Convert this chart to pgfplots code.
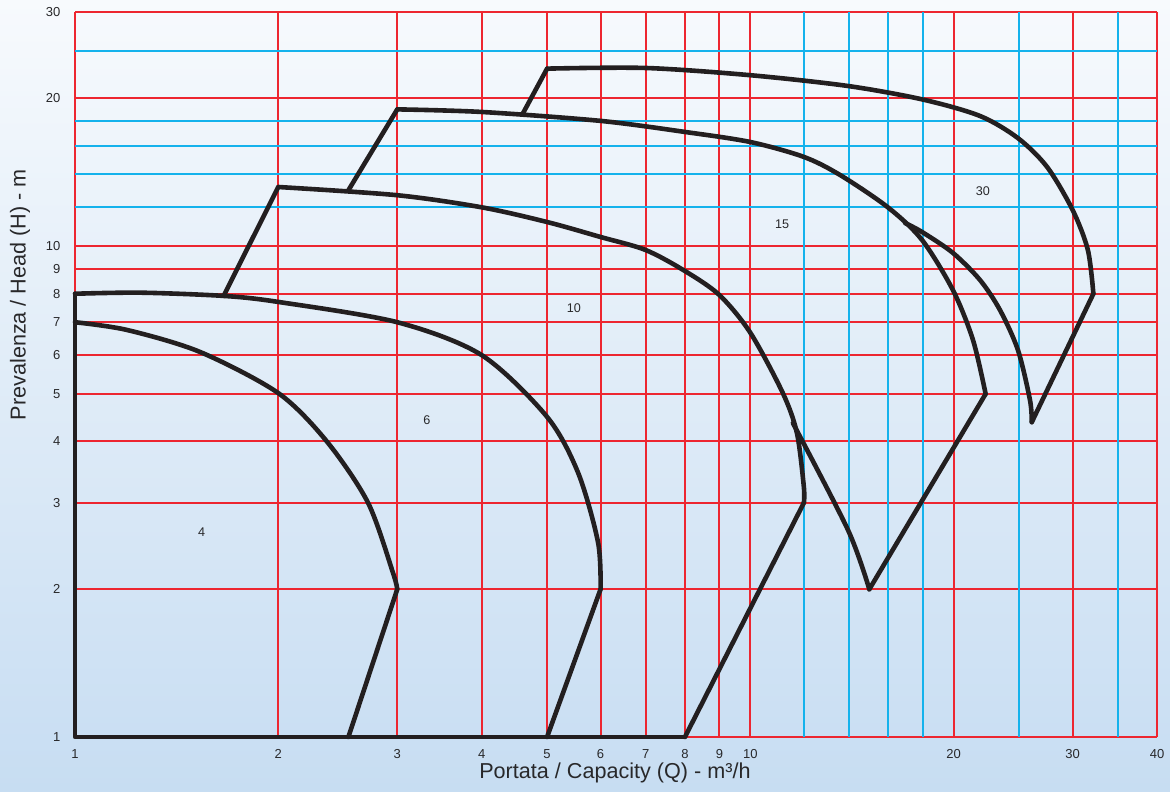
\documentclass[border=0pt]{standalone}
\usepackage{pgfplots}
\pgfplotsset{compat=1.18}
\usepackage{fontspec}
\setmainfont{Liberation Sans}
\definecolor{gridred}{RGB}{237,38,48}
\definecolor{gridblue}{RGB}{20,178,236}
\definecolor{curve}{RGB}{35,31,32}
\definecolor{bgtop}{RGB}{247,250,253}
\definecolor{bgbot}{RGB}{199,221,242}
\definecolor{txt}{RGB}{40,40,42}
\begin{document}
\begin{tikzpicture}
\shade[top color=bgtop, bottom color=bgbot] (-37.5pt,-27pt) rectangle (547.5pt,368.5pt);
\path[use as bounding box] (-37.5pt,-27pt) rectangle (547.5pt,368.5pt);
\begin{axis}[
  scale only axis, width=541pt, height=362.5pt,
  xmode=log, ymode=log,
  xmin=1, xmax=40, ymin=1, ymax=30,
  clip=false,
  axis line style={draw=none},
  major tick length=0pt,
  xtick={1,2,3,4,5,6,7,8,9,10,20,30,40},
  xticklabels={1,2,3,4,5,6,7,8,9,10,20,30,40},
  ytick={1,2,3,4,5,6,7,8,9,10,20,30},
  yticklabels={1,2,3,4,5,6,7,8,9,10,20,30},
  extra x ticks={12,14,16,18,25,35},
  extra x tick labels={},
  extra y ticks={12,14,16,18,25},
  extra y tick labels={},
  grid=major,
  major grid style={gridred, line width=1pt},
  extra x tick style={major grid style={gridblue, line width=1pt}},
  extra y tick style={major grid style={gridblue, line width=1pt}},
  ticklabel style={font=\fontsize{6.5}{7.5}\selectfont, text=txt},
  xticklabel style={yshift=-2.7pt},
  yticklabel style={xshift=-3.8pt},
  xlabel={Portata / Capacity (Q) - m³/h},
  ylabel={Prevalenza / Head (H) - m},
  label style={font=\fontsize{10.8}{12}\selectfont, text=txt},
  xlabel style={at={(axis description cs:0.499,-0.0497)}, anchor=center},
  ylabel style={at={(axis description cs:-0.0508,0.61)}, anchor=center, rotate=0},
  every axis plot/.append style={curve, line width=2.3pt, line cap=round, line join=round},
]
% frame
\addplot[sharp plot] coordinates {(8,1) (1,1) (1,8)};
% curve 4
\addplot[smooth] coordinates {(1,7) (1.194,6.75) (1.531,6.09) (2,5.02) (2.36,4.0) (2.716,3.0) (2.957,2.16) (3,2)};
\addplot[sharp plot] coordinates {(3,2) (2.54,1)};
% curve 6
\addplot[smooth] coordinates {(1,8) (1.25,8.04) (1.66,7.92) (2,7.7) (3,7.0) (4,6.0) (5,4.49) (5.56,3.45) (5.95,2.49) (6,2)};
\addplot[sharp plot] coordinates {(6,2) (5,1)};
% curve 10
\addplot[sharp plot] coordinates {(1.66,7.92) (2,13.2)};
\addplot[smooth] coordinates {(2,13.2) (3,12.7) (4,12.0) (5,11.2) (6,10.44) (7,9.82) (8,8.9) (9,7.95) (10,6.66) (11.17,5.02) (11.72,4.16) (12,3.23) (12,3.0)};
\addplot[sharp plot] coordinates {(12,3) (8,1)};
% curve 15
\addplot[sharp plot] coordinates {(2.54,13.0) (3,19.0)};
\addplot[smooth] coordinates {(3,19.0) (4,18.77) (6,18.0) (8,17.09) (10,16.3) (12,15.2) (13.57,13.97) (15.98,12.0) (17.95,10.3) (19.95,8.14) (21.36,6.44) (22.3,5.0)};
\addplot[sharp plot] coordinates {(22.3,5.0) (15,2)};
\addplot[smooth] coordinates {(15,2) (13.95,2.64) (11.56,4.36)};
% curve 30
\addplot[sharp plot] coordinates {(4.61,18.7) (5,23.0)};
\addplot[smooth] coordinates {(5,23.0) (7,23.07) (10,22.3) (13.95,21.2) (18,19.9) (21.88,18.42) (24.9,16.6) (27.5,14.5) (30,11.85) (31.6,9.82) (32.2,8.0)};
\addplot[sharp plot] coordinates {(32.2,8.0) (26.1,4.38)};
\addplot[smooth] coordinates {(26.1,4.38) (25.94,4.86) (24.9,6.14) (23.42,7.41) (21.88,8.53) (19.95,9.69) (17.95,10.69) (16.94,11.15)};
% region labels
\node[font=\fontsize{6.3}{7.5}\selectfont, text=txt] at (axis cs:1.54,2.62) {4};
\node[font=\fontsize{6.3}{7.5}\selectfont, text=txt] at (axis cs:3.32,4.43) {6};
\node[font=\fontsize{6.3}{7.5}\selectfont, text=txt] at (axis cs:5.48,7.48) {10};
\node[font=\fontsize{6.3}{7.5}\selectfont, text=txt] at (axis cs:11.14,11.1) {15};
\node[font=\fontsize{6.3}{7.5}\selectfont, text=txt] at (axis cs:22.1,12.96) {30};
\end{axis}
\end{tikzpicture}
\end{document}
